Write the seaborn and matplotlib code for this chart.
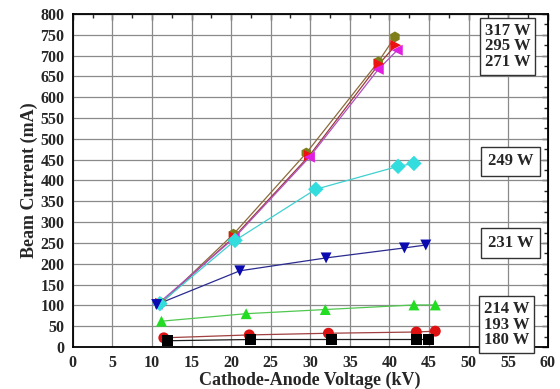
import matplotlib.pyplot as plt
import seaborn as sns
import numpy as np
import pandas as pd
from matplotlib.ticker import MultipleLocator

# power levels and measured points (kV, mA)
powers = ['317 W', '295 W', '271 W', '249 W', '231 W', '214 W', '193 W', '180 W']

v_317 = [11.2, 20.3, 29.5, 38.6, 40.7]
i_317 = [106, 271, 466, 685, 745]
v_295 = [11.1, 20.4, 29.9, 38.7, 40.8]
i_295 = [105, 265, 460, 680, 725]
v_271 = [10.7, 20.4, 29.9, 38.6, 41.0]
i_271 = [103, 262, 456, 667, 713]
v_249 = [11.0, 20.5, 30.7, 41.1, 43.1]
i_249 = [104, 256, 379, 434, 441]
v_231 = [10.6, 21.1, 32.0, 41.9, 44.6]
i_231 = [102, 183, 214, 238, 245]
v_214 = [11.2, 21.9, 31.9, 43.1, 45.8]
i_214 = [62, 80, 90, 101, 101]
v_193 = [11.5, 22.3, 32.3, 43.4, 45.8]
i_193 = [22, 29, 33, 36, 38]
v_180 = [12.0, 22.4, 32.7, 43.4, 45.0]
i_180 = [15, 18, 18, 18, 18]

volts = [v_317, v_295, v_271, v_249, v_231, v_214, v_193, v_180]
amps = [i_317, i_295, i_271, i_249, i_231, i_214, i_193, i_180]

marker_colors = ['#7f7f1a', '#ee1111', '#e020e0', '#33dddd', '#0a0ab0', '#22dd22', '#dd1111', '#000000']
line_colors = ['#8b6b3a', '#9a3a3a', '#b050c0', '#40d0d0', '#2a2a90', '#50c850', '#a04040', '#202020']
markers = ['h', '>', '<', 'D', 'v', '^', 'o', 's']

rows = []
for p, vs, cs in zip(powers, volts, amps):
    for v, c in zip(vs, cs):
        rows.append({'power': p, 'voltage': v, 'current': c})
df = pd.DataFrame(rows)

sns.set_style('white')
plt.rcParams['font.family'] = ['Liberation Serif', 'DejaVu Serif']
plt.rcParams['font.weight'] = 'bold'

fig = plt.figure(figsize=(5.6, 3.89), dpi=100)
ax = fig.add_axes([0.13, 0.108, 0.848, 0.856])

# lines first, then markers on top
sns.lineplot(data=df, x='voltage', y='current', hue='power', hue_order=powers,
             palette=dict(zip(powers, line_colors)), estimator=None, sort=False,
             linewidth=0.9, legend=False, ax=ax, zorder=3)
sns.scatterplot(data=df, x='voltage', y='current', hue='power', hue_order=powers,
                style='power', style_order=powers, markers=dict(zip(powers, markers)),
                palette=dict(zip(powers, marker_colors)), s=62, linewidth=0,
                legend=False, ax=ax, zorder=4)

ax.set_xlim(0, 60)
ax.set_ylim(0, 800)
ax.xaxis.set_major_locator(MultipleLocator(5))
ax.xaxis.set_minor_locator(MultipleLocator(2.5))
ax.yaxis.set_major_locator(MultipleLocator(50))
ax.yaxis.set_minor_locator(MultipleLocator(25))
ax.grid(True, which='major', color='#8a8a8a', linewidth=0.9)
ax.set_axisbelow(True)

for s in ax.spines.values():
    s.set_color('black')
    s.set_linewidth(1.3)

ax.tick_params(which='major', direction='out', length=4, width=1, labelsize=11.5, pad=2)
ax.tick_params(which='minor', direction='out', length=2.5, width=1)
for lab in ax.get_xticklabels() + ax.get_yticklabels():
    lab.set_fontweight('bold')

# inward ticks on top and right
top = ax.secondary_xaxis('top')
top.xaxis.set_major_locator(MultipleLocator(5))
top.xaxis.set_minor_locator(MultipleLocator(2.5))
top.tick_params(which='both', direction='in', labeltop=False, width=1)
top.tick_params(which='major', length=4)
top.tick_params(which='minor', length=3)
right = ax.secondary_yaxis('right')
right.yaxis.set_major_locator(MultipleLocator(50))
right.yaxis.set_minor_locator(MultipleLocator(25))
right.tick_params(which='both', direction='in', labelright=False, width=1)
right.tick_params(which='major', length=4)
right.tick_params(which='minor', length=3)

ax.set_xlabel('Cathode-Anode Voltage (kV)', fontsize=13, fontweight='bold', labelpad=0)
ax.set_ylabel('Beam Current (mA)', fontsize=13, fontweight='bold', labelpad=2)

box = dict(boxstyle='square,pad=0.3', facecolor='white', edgecolor='#333333', linewidth=1)
box2 = dict(boxstyle='square,pad=0.4', facecolor='white', edgecolor='#333333', linewidth=1)
ax.text(54.9, 722, '317 W\n295 W\n271 W', ha='center', va='center', fontsize=12,
        fontweight='bold', linespacing=0.95, bbox=box, zorder=6)
ax.text(55.3, 446, '249 W', ha='center', va='center', fontsize=12,
        fontweight='bold', bbox=box2, zorder=6)
ax.text(55.3, 250, '231 W', ha='center', va='center', fontsize=12,
        fontweight='bold', bbox=box2, zorder=6)
ax.text(54.8, 54, '214 W\n193 W\n180 W', ha='center', va='center', fontsize=12,
        fontweight='bold', linespacing=0.95, bbox=box, zorder=6, clip_on=False)

fig.savefig('out.png', dpi=100)
